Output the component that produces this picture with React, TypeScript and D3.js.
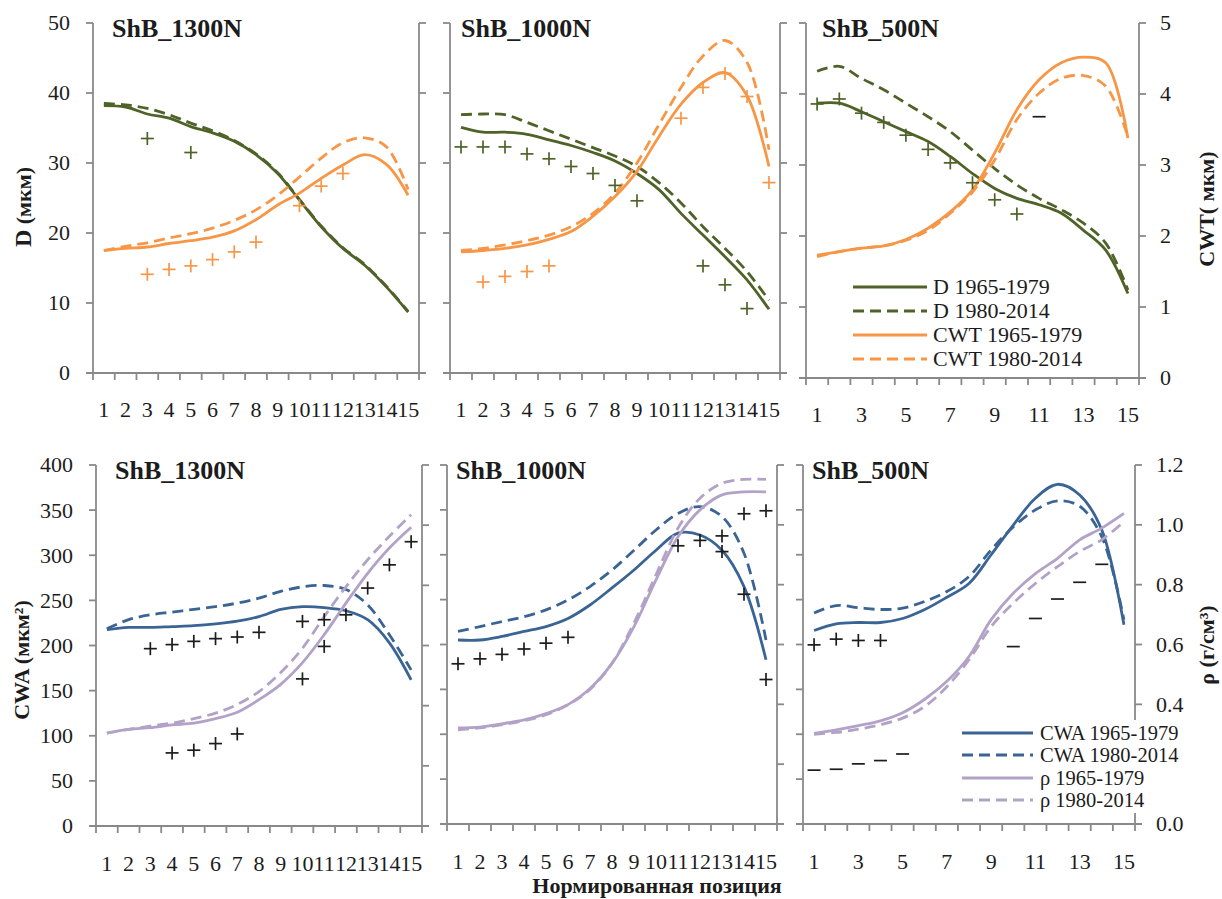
import React from 'react';
import * as d3 from 'd3';

const W = 1222;
const H = 899;
const FONT = '"Liberation Serif", "Times New Roman", serif';

const GREEN = '#4f6228';
const ORANGE = '#f79646';
const BLUE = '#3a6494';
const LILAC = '#b3a2c7';
const AXIS = '#898989';
const INK = '#1c1c1c';

const POSITIONS = d3.range(1, 16);

// ---- top row: D (мкм) on the left axis, CWT (мкм) on the right axis
const D_1300_A = [38.2, 38.0, 37.0, 36.4, 35.2, 34.3, 33.1, 31.2, 28.5, 24.7, 20.9, 17.8, 15.4, 12.3, 8.7];
const D_1300_B = [38.5, 38.3, 37.8, 36.9, 35.7, 34.6, 33.2, 31.3, 28.6, 24.8, 21.0, 17.9, 15.5, 12.4, 8.8];
const CWT_1300_A = [1.75, 1.78, 1.8, 1.85, 1.89, 1.94, 2.03, 2.19, 2.4, 2.57, 2.78, 2.97, 3.12, 2.98, 2.54];
const CWT_1300_B = [1.75, 1.81, 1.86, 1.93, 1.99, 2.07, 2.18, 2.33, 2.54, 2.8, 3.07, 3.29, 3.36, 3.23, 2.62];
const D_1300_PLUS: [number, number][] = [[3, 33.5], [5, 31.5]];
const CWT_1300_PLUS: [number, number][] = [
  [3, 1.41], [4, 1.48], [5, 1.53], [6, 1.62], [7, 1.73], [8, 1.87], [10, 2.39], [11, 2.67], [12, 2.85],
];

const D_1000_A = [35.1, 34.4, 34.4, 34.1, 33.3, 32.5, 31.5, 30.3, 28.5, 26.2, 22.8, 19.7, 16.6, 13.3, 9.1];
const D_1000_B = [36.9, 37.0, 36.9, 35.8, 34.6, 33.4, 32.2, 31.0, 29.5, 27.2, 24.3, 20.9, 17.8, 14.5, 10.4];
const CWT_1000_A = [1.73, 1.75, 1.78, 1.83, 1.91, 2.02, 2.24, 2.52, 2.88, 3.38, 3.84, 4.15, 4.29, 3.96, 2.95];
const CWT_1000_B = [1.75, 1.78, 1.83, 1.89, 1.97, 2.09, 2.28, 2.57, 3.0, 3.55, 4.08, 4.53, 4.75, 4.44, 3.19];
const D_1000_PLUS: [number, number][] = [
  [1, 32.3], [2, 32.3], [3, 32.3], [4, 31.3], [5, 30.6], [6, 29.5], [7, 28.5], [8, 26.8], [9, 24.6],
  [12, 15.3], [13, 12.6], [14, 9.2],
];
const CWT_1000_PLUS: [number, number][] = [
  [2, 1.3], [3, 1.38], [4, 1.45], [5, 1.53], [11, 3.64], [12, 4.08], [13, 4.28], [14, 3.95], [15, 2.72],
];

const D_500_A = [38.7, 38.7, 37.5, 36.1, 34.7, 33.3, 31.2, 28.8, 26.7, 25.3, 24.4, 23.2, 20.8, 18.0, 11.9];
const D_500_B = [43.2, 43.9, 42.2, 40.6, 38.7, 36.8, 34.7, 32.1, 29.5, 27.2, 25.3, 23.7, 21.8, 19.0, 12.4];
const CWT_500_A = [1.73, 1.78, 1.83, 1.86, 1.95, 2.11, 2.34, 2.65, 3.17, 3.78, 4.2, 4.44, 4.52, 4.44, 3.38];
const CWT_500_B = [1.71, 1.78, 1.83, 1.86, 1.94, 2.08, 2.32, 2.62, 3.07, 3.64, 4.01, 4.22, 4.26, 4.11, 3.4];
const D_500_PLUS: [number, number][] = [
  [1, 38.6], [2, 39.3], [3, 37.3], [4, 36.0], [5, 34.2], [6, 32.2], [7, 30.3], [8, 27.5], [9, 25.1], [10, 23.1],
];
const CWT_500_MINUS: [number, number][] = [[11, 3.68]];

// ---- bottom row: CWA (мкм²) on the left axis, ρ (г/см³) on the right axis
const CWA_1300_A = [217.5, 220, 220, 221, 222, 224, 227, 232, 240, 243, 242, 238.5, 228.6, 203, 162];
const CWA_1300_B = [218.6, 228.6, 234, 237, 240, 243, 247, 252.5, 260, 265, 266.5, 262, 245, 212, 173];
const RHO_1300_A = [0.309, 0.321, 0.327, 0.336, 0.342, 0.357, 0.378, 0.42, 0.471, 0.543, 0.636, 0.741, 0.84, 0.924, 0.993];
const RHO_1300_B = [0.309, 0.321, 0.332, 0.342, 0.357, 0.375, 0.404, 0.447, 0.51, 0.591, 0.696, 0.795, 0.885, 0.963, 1.035];
const CWA_1300_PLUS: [number, number][] = [
  [3, 196.5], [4, 201], [5, 204.6], [6, 207.6], [7, 209.4], [8, 214.6], [10, 226.7], [11, 228.6], [12, 234],
];
const RHO_1300_PLUS: [number, number][] = [
  [4, 0.243], [5, 0.252], [6, 0.274], [7, 0.306], [10, 0.489], [11, 0.597], [13, 0.791], [14, 0.868], [15, 0.945],
];

const CWA_1000_A = [205, 205, 209, 214.5, 220, 229, 244, 263, 283, 305, 324, 322, 305, 264.5, 183];
const CWA_1000_B = [214.5, 220, 225.6, 231, 238.6, 249.7, 264.5, 283, 305, 327.6, 346, 353.6, 342.5, 301.7, 205];
const RHO_1000_A = [0.321, 0.324, 0.335, 0.348, 0.369, 0.399, 0.453, 0.537, 0.66, 0.816, 0.96, 1.05, 1.1, 1.11, 1.11];
const RHO_1000_B = [0.315, 0.321, 0.332, 0.345, 0.365, 0.399, 0.45, 0.537, 0.672, 0.833, 0.989, 1.089, 1.139, 1.152, 1.152];
const CWA_1000_PLUS: [number, number][] = [
  [1, 178.5], [2, 184], [3, 189], [4, 195], [5, 201.5], [6, 208], [11, 310], [12, 316], [13, 303.5], [14, 256], [15, 161],
];
const RHO_1000_PLUS: [number, number][] = [[13, 0.963], [14, 1.037], [15, 1.047]];

const CWA_500_A = [215.6, 223, 224.5, 224.5, 229, 239, 252.7, 268, 300, 333, 363, 378.5, 366.6, 327.6, 222];
const CWA_500_B = [235, 243.4, 241, 239, 240.5, 248, 259, 275.7, 305.4, 331, 350, 360, 354, 320, 227.5];
const RHO_500_A = [0.303, 0.315, 0.329, 0.345, 0.372, 0.417, 0.477, 0.56, 0.683, 0.771, 0.837, 0.888, 0.95, 0.989, 1.038];
const RHO_500_B = [0.3, 0.306, 0.317, 0.332, 0.354, 0.393, 0.459, 0.549, 0.66, 0.738, 0.804, 0.86, 0.911, 0.95, 1.011];
const CWA_500_PLUS: [number, number][] = [[1, 199.6], [2, 206], [3, 204.5], [4, 204.5]];
const RHO_500_MINUS: [number, number][] = [
  [1, 0.18], [2, 0.183], [3, 0.201], [4, 0.212], [5, 0.234], [10, 0.593], [11, 0.687], [12, 0.752], [13, 0.808], [14, 0.868],
];

const TITLES = ['ShB_1300N', 'ShB_1000N', 'ShB_500N'];
const TOP_LEGEND = ['D 1965-1979', 'D 1980-2014', 'CWT 1965-1979', 'CWT 1980-2014'];
const BOTTOM_LEGEND = ['CWA 1965-1979', 'CWA 1980-2014', 'ρ 1965-1979', 'ρ 1980-2014'];

type Series = { values: number[]; color: string; dashed: boolean; right: boolean };
type Marks = { points: [number, number][]; color: string; shape: 'plus' | 'minus'; right: boolean };
type Box = { x0: number; x1: number; y0: number; y1: number; tx: number; ty: number };

const BOXES: Box[] = [
  { x0: 93, x1: 419, y0: 23, y1: 373, tx: 112, ty: 37 },
  { x0: 450, x1: 780, y0: 23, y1: 373, tx: 461, ty: 37 },
  { x0: 806, x1: 1139, y0: 23, y1: 378, tx: 822, ty: 37 },
  { x0: 96, x1: 422, y0: 465, y1: 826, tx: 115, ty: 479 },
  { x0: 447, x1: 777, y0: 465, y1: 824, tx: 456, ty: 479 },
  { x0: 803, x1: 1135, y0: 465, y1: 824, tx: 812, ty: 479 },
];

const topSeries = (a: number[], b: number[], c: number[], d: number[]): Series[] => [
  { values: a, color: GREEN, dashed: false, right: false },
  { values: b, color: GREEN, dashed: true, right: false },
  { values: c, color: ORANGE, dashed: false, right: true },
  { values: d, color: ORANGE, dashed: true, right: true },
];
const bottomSeries = (a: number[], b: number[], c: number[], d: number[]): Series[] => [
  { values: a, color: BLUE, dashed: false, right: false },
  { values: b, color: BLUE, dashed: true, right: false },
  { values: c, color: LILAC, dashed: false, right: true },
  { values: d, color: LILAC, dashed: true, right: true },
];

const PANELS = [
  {
    series: topSeries(D_1300_A, D_1300_B, CWT_1300_A, CWT_1300_B),
    marks: [
      { points: D_1300_PLUS, color: GREEN, shape: 'plus', right: false },
      { points: CWT_1300_PLUS, color: ORANGE, shape: 'plus', right: true },
    ] as Marks[],
  },
  {
    series: topSeries(D_1000_A, D_1000_B, CWT_1000_A, CWT_1000_B),
    marks: [
      { points: D_1000_PLUS, color: GREEN, shape: 'plus', right: false },
      { points: CWT_1000_PLUS, color: ORANGE, shape: 'plus', right: true },
    ] as Marks[],
  },
  {
    series: topSeries(D_500_A, D_500_B, CWT_500_A, CWT_500_B),
    marks: [
      { points: D_500_PLUS, color: GREEN, shape: 'plus', right: false },
      { points: CWT_500_MINUS, color: INK, shape: 'minus', right: true },
    ] as Marks[],
  },
  {
    series: bottomSeries(CWA_1300_A, CWA_1300_B, RHO_1300_A, RHO_1300_B),
    marks: [
      { points: CWA_1300_PLUS, color: INK, shape: 'plus', right: false },
      { points: RHO_1300_PLUS, color: INK, shape: 'plus', right: true },
    ] as Marks[],
  },
  {
    series: bottomSeries(CWA_1000_A, CWA_1000_B, RHO_1000_A, RHO_1000_B),
    marks: [
      { points: CWA_1000_PLUS, color: INK, shape: 'plus', right: false },
      { points: RHO_1000_PLUS, color: INK, shape: 'plus', right: true },
    ] as Marks[],
  },
  {
    series: bottomSeries(CWA_500_A, CWA_500_B, RHO_500_A, RHO_500_B),
    marks: [
      { points: CWA_500_PLUS, color: INK, shape: 'plus', right: false },
      { points: RHO_500_MINUS, color: INK, shape: 'minus', right: true },
    ] as Marks[],
  },
];

function Panel({ index }: { index: number }) {
  const box = BOXES[index];
  const panel = PANELS[index];
  const top = index < 3;
  const col = index % 3;

  const x = d3.scaleBand<number>().domain(POSITIONS).range([box.x0, box.x1]);
  const cx = (p: number) => (x(p) as number) + x.bandwidth() / 2;
  const yL = d3.scaleLinear().domain(top ? [0, 50] : [0, 400]).range([box.y1, box.y0]);
  const yR = d3.scaleLinear().domain(top ? [0, 5] : [0, 1.2]).range([box.y1, box.y0]);
  const leftTicks = top ? d3.range(0, 51, 10) : d3.range(0, 401, 50);
  const rightTicks = top ? d3.range(0, 6, 1) : d3.range(0, 7).map((i) => i * 0.2);
  const fmtR = top ? d3.format('d') : d3.format('.1f');
  // the bottom legend covers the 0.2 label of the last panel
  const rightLabels = !top ? rightTicks.filter((t) => Math.abs(t - 0.2) > 1e-6) : rightTicks;
  const edges = d3.range(0, 16).map((i) => box.x0 + i * x.step());
  const xLabels = col === 2 ? POSITIONS.filter((p) => p % 2 === 1) : POSITIONS;

  return (
    <g>
      {panel.series.map((s, i) => {
        const y = s.right ? yR : yL;
        const line = d3
          .line<number>()
          .x((_, j) => cx(POSITIONS[j]))
          .y((v) => y(v))
          .curve(d3.curveCatmullRom.alpha(0.5));
        return (
          <path
            key={i}
            d={line(s.values) || ''}
            fill="none"
            stroke={s.color}
            strokeWidth={2.8}
            strokeDasharray={s.dashed ? '11,6' : undefined}
            strokeLinecap="butt"
          />
        );
      })}
      {panel.marks.map((m, i) =>
        m.points.map(([p, v], j) => {
          const y = (m.right ? yR : yL)(v);
          const px = cx(p);
          return (
            <g key={`${i}-${j}`} stroke={m.color} strokeWidth={1.7}>
              <line x1={px - 6.5} x2={px + 6.5} y1={y} y2={y} />
              {m.shape === 'plus' && <line x1={px} x2={px} y1={y - 6.5} y2={y + 6.5} />}
            </g>
          );
        })
      )}

      {/* axes */}
      <g stroke={AXIS} strokeWidth={1.8} fill="none">
        <line x1={box.x0} x2={box.x0} y1={box.y0} y2={box.y1} />
        <line x1={box.x1} x2={box.x1} y1={box.y0} y2={box.y1} />
        <line x1={box.x0 - 7} x2={box.x1 + 7} y1={box.y1} y2={box.y1} />
        {leftTicks.map((t) => (
          <line key={`l${t}`} x1={box.x0 - 7} x2={box.x0} y1={yL(t)} y2={yL(t)} />
        ))}
        {rightTicks.map((t) => (
          <line key={`r${t}`} x1={box.x1} x2={box.x1 + 7} y1={yR(t)} y2={yR(t)} />
        ))}
        {edges.map((e, i) => (
          <line key={`b${i}`} x1={e} x2={e} y1={box.y1} y2={box.y1 + 7} />
        ))}
      </g>

      <g fontFamily={FONT} fontSize={22} fill={INK}>
        {xLabels.map((p) => (
          <text key={p} x={cx(p)} y={box.y1 + (top ? 44 : 45)} textAnchor="middle">
            {p}
          </text>
        ))}
        {col === 0 &&
          leftTicks.map((t) => (
            <text key={t} x={box.x0 - 23} y={yL(t)} dy="0.34em" textAnchor="end">
              {t}
            </text>
          ))}
        {col === 2 &&
          rightLabels.map((t) => (
            <text key={t} x={box.x1 + 21} y={yR(t)} dy="0.34em" textAnchor="start">
              {fmtR(t)}
            </text>
          ))}
      </g>

      <text x={box.tx} y={box.ty} fontFamily={FONT} fontSize={26} fontWeight="bold" fill={INK}>
        {TITLES[col]}
      </text>
    </g>
  );
}

function Legend({ labels, colors, x0, x1, tx, ys, size, bg }: {
  labels: string[]; colors: string[]; x0: number; x1: number; tx: number; ys: number[]; size: number; bg?: boolean;
}) {
  return (
    <g>
      {bg && <rect x={x0 - 8} y={ys[0] - 13} width={250} height={ys[3] - ys[0] + 26} fill="#fff" />}
      {labels.map((l, i) => (
        <g key={l}>
          <line
            x1={x0}
            x2={x1}
            y1={ys[i]}
            y2={ys[i]}
            stroke={colors[i]}
            strokeWidth={2.8}
            strokeDasharray={i % 2 === 1 ? '11,6' : undefined}
          />
          <text x={tx} y={ys[i]} dy="0.34em" fontFamily={FONT} fontSize={size} fill={INK}>
            {l}
          </text>
        </g>
      ))}
    </g>
  );
}

export default function App() {
  return (
    <svg
      width={W}
      height={H}
      viewBox={`0 0 ${W} ${H}`}
      style={{ position: 'absolute', left: 0, top: 0, background: '#fff' }}
    >
      <rect width={W} height={H} fill="#fff" />
      {PANELS.map((_, i) => (
        <Panel key={i} index={i} />
      ))}

      <Legend
        labels={TOP_LEGEND}
        colors={[GREEN, GREEN, ORANGE, ORANGE]}
        x0={853}
        x1={927}
        tx={933}
        ys={[287, 311, 335, 359]}
        size={22}
      />
      <Legend
        labels={BOTTOM_LEGEND}
        colors={[BLUE, BLUE, LILAC, LILAC]}
        x0={962}
        x1={1033}
        tx={1040}
        ys={[733, 755, 778, 800]}
        size={20.5}
        bg
      />

      <g fontFamily={FONT} fontWeight="bold" fill={INK}>
        <text transform="translate(24,207) rotate(-90)" textAnchor="middle" dy="0.34em" fontSize={22}>
          <tspan fontSize={24}>D</tspan> (мкм)
        </text>
        <text transform="translate(1207,209) rotate(-90)" textAnchor="middle" dy="0.34em" fontSize={22}>
          CWT( мкм)
        </text>
        <text transform="translate(22,660) rotate(-90)" textAnchor="middle" dy="0.34em" fontSize={22}>
          CWA (мкм²)
        </text>
        <text transform="translate(1207,645) rotate(-90)" textAnchor="middle" dy="0.34em" fontSize={22}>
          ρ (г/см³)
        </text>
        <text x={657} y={893} textAnchor="middle" fontSize={22}>
          Нормированная позиция
        </text>
      </g>
    </svg>
  );
}
